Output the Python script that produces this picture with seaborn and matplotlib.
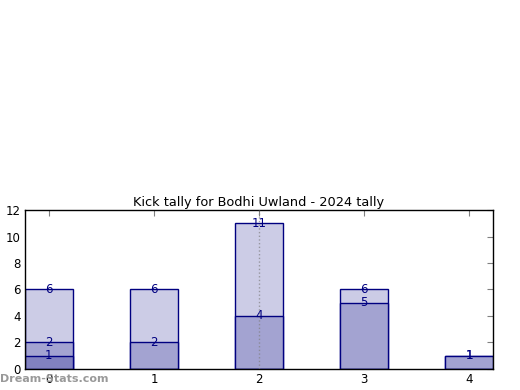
import matplotlib
matplotlib.use("Agg")
import matplotlib.pyplot as plt
import seaborn as sns

# data
games = [0, 1, 2, 3, 4]
total = [6, 6, 11, 6, 1]
middle = [2, 2, 4, 5, 1]
low = [1, 0, 0, 0, 0]

sns.set_style("white")
plt.rcParams['font.family'] = ['DejaVu Sans']
plt.rcParams['text.color'] = 'black'
plt.rcParams['xtick.labelcolor'] = 'black'
plt.rcParams['ytick.labelcolor'] = 'black'

fig = plt.figure(figsize=(5.2, 3.9), dpi=100)
ax = fig.add_axes([0.048, 0.054, 0.9, 0.4075])

layers = [(total, "#ccccE6"), (middle, "#a3a3d1"), (low, "#8282c0")]
for vals, col in layers:
    sns.barplot(x=games, y=vals, width=0.45, color=col, saturation=1,
                edgecolor="navy", linewidth=1, ax=ax, zorder=2)

# value labels
for vals in [total, middle, low]:
    for i, v in enumerate(vals):
        if v > 0:
            ax.text(i, v, str(v), ha="center", va="center", color="navy",
                    fontsize=8.5, zorder=4)

ax.axvline(2, color="gray", linestyle=":", linewidth=1, alpha=0.7, zorder=3)

ax.set_xlim(-0.228, 4.228)
ax.set_ylim(0, 12)
ax.set_yticks(range(0, 13, 2))
ax.set_xticks(games)
ax.set_xticklabels([str(g) for g in games])
ax.tick_params(direction="in", length=4, color="gray", labelsize=8.5,
               labelcolor="black", top=True, right=True, pad=3)
for s in ax.spines.values():
    s.set_color("black")
    s.set_linewidth(1)
ax.set_xlabel("")
ax.set_ylabel("")
ax.set_title("Kick tally for Bodhi Uwland - 2024 tally", fontsize=9.3,
             color="black", pad=3)

fig.text(0.0, 0.015, "Dream-Stats.com", color="#999999", fontsize=8,
         fontweight="bold", ha="left", va="bottom")

fig.savefig("out.png", dpi=100)
